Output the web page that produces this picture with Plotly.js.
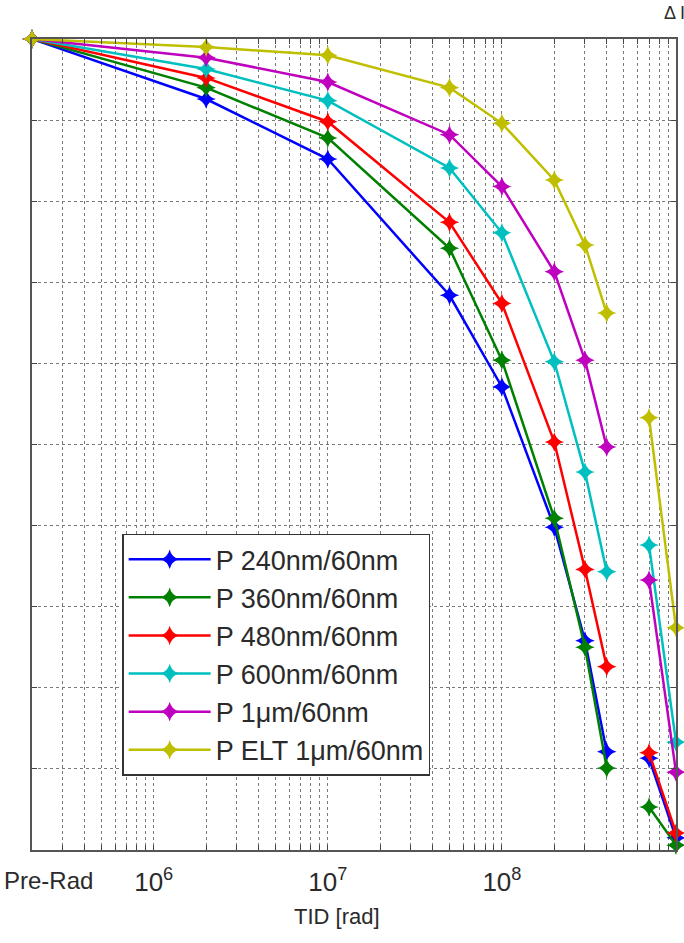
<!DOCTYPE html>
<html>
<head>
<meta charset="utf-8">
<script src="https://cdn.plot.ly/plotly-3.0.1.min.js"></script>
<style>html,body{margin:0;padding:0;background:#fff;}#chart{width:684px;height:943px;}</style>
</head>
<body>
<div id="chart"></div>
<script>
// TID doses (rad); null marks the break in the measurement series
const doses = [2e5, 2e6, 1e7, 5e7, 1e8, 2e8, 3e8, 4e8, null, 7e8, 1e9];
const seriesNames = ["P 240nm/60nm", "P 360nm/60nm", "P 480nm/60nm", "P 600nm/60nm", "P 1\u03bcm/60nm", "P ELT 1\u03bcm/60nm"];
const s240 = [1.0, 0.926, 0.852, 0.684, 0.571, 0.398, 0.258, 0.121, null, 0.113, 0.015];
const s360 = [1.0, 0.940, 0.878, 0.742, 0.604, 0.409, 0.250, 0.101, null, 0.053, 0.006];
const s480 = [1.0, 0.952, 0.898, 0.774, 0.674, 0.503, 0.346, 0.226, null, 0.120, 0.021];
const s600 = [1.0, 0.963, 0.924, 0.841, 0.761, 0.602, 0.466, 0.343, null, 0.376, 0.133];
const s1um = [1.0, 0.977, 0.947, 0.882, 0.818, 0.713, 0.604, 0.497, null, 0.333, 0.096];
const sELT = [1.0, 0.990, 0.980, 0.940, 0.896, 0.826, 0.746, 0.662, null, 0.533, 0.274];
const seriesValues = [s240, s360, s480, s600, s1um, sELT];
const colors = ["#0000ff", "#008000", "#ff0000", "#00bfbf", "#bf00bf", "#bfbf00"];
const xTitle = "TID [rad]";

// x tick positions (decades labelled, minor positions unlabelled)
const tickVals = [];
const tickText = [];
for (let e = 5; e <= 8; e++) {
  for (let m = 1; m <= 9; m++) {
    const v = m * Math.pow(10, e);
    if (v < 2e5) continue;
    tickVals.push(v);
    tickText.push(m === 1 ? "10<sup>" + e + "</sup>" : "");
  }
}
tickVals.push(1e9); tickText.push("10<sup>9</sup>");
const yTicks = [0, 0.1, 0.2, 0.3, 0.4, 0.5, 0.6, 0.7, 0.8, 0.9, 1.0];

const traces = seriesValues.map((vals, i) => ({
  x: doses, y: vals, name: seriesNames[i], legendgroup: "g" + i,
  type: "scatter", mode: "lines+markers", connectgaps: false, cliponaxis: false,
  line: {color: colors[i], width: 2.5},
  marker: {symbol: "star-diamond", size: 14, color: colors[i]}
}));

const fam = "Liberation Sans, Arial, sans-serif";
const txt = "#2a2a2a";
const layout = {
  width: 684, height: 943,
  margin: {l: 32, r: 8, t: 39, b: 93},
  paper_bgcolor: "#fff", plot_bgcolor: "#fff",
  font: {family: fam, size: 22, color: txt},
  showlegend: true,
  legend: {x: 0.14, y: 0.39, xanchor: "left", yanchor: "top",
    bgcolor: "#fff", bordercolor: "#333", borderwidth: 1.5,
    font: {family: fam, size: 27, color: txt},
    tracegroupgap: 0, itemwidth: 82},
  xaxis: {type: "log", range: [Math.log10(2e5), 9],
    tickmode: "array", tickvals: tickVals, ticktext: tickText,
    ticks: "inside", ticklen: 5, tickcolor: "#444",
    ticklabelstandoff: 8,
    showline: true, linecolor: "#555", linewidth: 2, mirror: "ticks",
    showgrid: true, gridcolor: "#7a7a7a", griddash: "dot", gridwidth: 1,
    zeroline: false,
    tickfont: {family: fam, size: 26, color: txt}},
  yaxis: {range: [0, 1], tickmode: "array", tickvals: yTicks,
    showticklabels: false,
    ticks: "inside", ticklen: 5, tickcolor: "#444",
    showline: true, linecolor: "#555", linewidth: 2, mirror: "ticks",
    showgrid: true, gridcolor: "#7a7a7a", griddash: "dot", gridwidth: 1,
    zeroline: false},
  annotations: [
    {text: "Pre-Rad", xref: "paper", yref: "paper", x: 0, y: 0, xanchor: "left", yanchor: "top",
      xshift: -30, yshift: -15, showarrow: false, font: {family: fam, size: 24, color: txt}},
    {text: xTitle, xref: "paper", yref: "paper", x: 0.474, y: 0, xanchor: "center", yanchor: "top",
      yshift: -52, showarrow: false, font: {family: fam, size: 22, color: txt}},
    {text: "\u0394 I", xref: "paper", yref: "paper", x: 1, y: 1, xanchor: "left", yanchor: "bottom",
      xshift: -14, yshift: 14, showarrow: false, font: {family: fam, size: 18, color: txt}}
  ]
};
Plotly.newPlot("chart", traces, layout, {displayModeBar: false, staticPlot: true});
</script>
</body>
</html>
